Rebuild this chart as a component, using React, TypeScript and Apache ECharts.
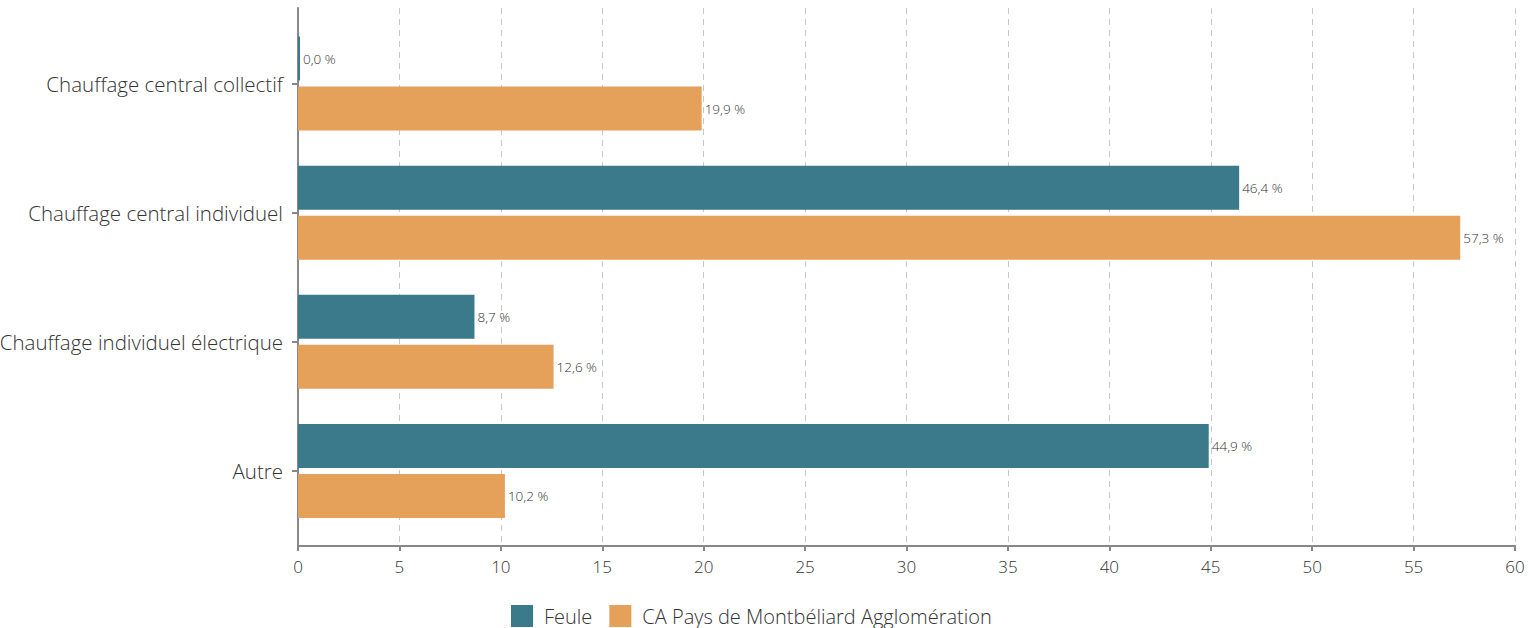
import React, { useEffect, useRef } from "react";
import * as echarts from "echarts";

const categories = [
  "Chauffage central collectif",
  "Chauffage central individuel",
  "Chauffage individuel électrique",
  "Autre",
];
const feule = [0.0, 46.4, 8.7, 44.9];
const capma = [19.9, 57.3, 12.6, 10.2];
const seriesNames = ["Feule", "CA Pays de Montbéliard Agglomération"];
const xTicks = { min: 0, max: 60, interval: 5 };

const FONT = "'Open Sans', 'Noto Sans', sans-serif";
const fmt = (v: number) => v.toFixed(1).replace(".", ",") + " %";

export default function App() {
  const ref = useRef<HTMLDivElement>(null);
  useEffect(() => {
    if (!ref.current) return;
    const chart = echarts.init(ref.current, null, { renderer: "svg" });
    const label = {
      show: true,
      position: "right",
      distance: 3,
      fontFamily: FONT,
      fontSize: 13.5,
      fontWeight: 300,
      color: "#333",
      formatter: (p: any) => fmt(p.value),
    };
    chart.setOption({
      animation: false,
      textStyle: { fontFamily: FONT },
      grid: [
        { left: 298, right: 14, top: 8, bottom: 82, containLabel: false, outerBoundsMode: "none" },
        { left: 298, right: 14, top: 19, bottom: 92.5, containLabel: false, outerBoundsMode: "none" },
      ],
      legend: {
        top: 600,
        left: 506,
        itemWidth: 22,
        itemHeight: 22,
        itemGap: 17,
        icon: "rect",
        textStyle: { fontFamily: FONT, fontSize: 20, fontWeight: 300, color: "#333", padding: [0, 0, 0, 6] },
        data: seriesNames,
      },
      xAxis: [
        {
          type: "value",
          gridIndex: 0,
          min: xTicks.min,
          max: xTicks.max,
          interval: xTicks.interval,
          axisLine: { show: true, lineStyle: { color: "#888", width: 2 } },
          axisTick: { show: true, length: 5, lineStyle: { color: "#888", width: 2 } },
          axisLabel: { fontFamily: FONT, fontSize: 17, fontWeight: 300, color: "#333", margin: 12 },
          splitLine: { show: true, lineStyle: { color: "#c8c8c8", type: [6, 5], width: 1 } },
        },
        {
          type: "value",
          gridIndex: 1,
          min: xTicks.min,
          max: xTicks.max,
          interval: xTicks.interval,
          show: false,
          splitLine: { show: false },
        },
      ],
      yAxis: [
        {
          type: "category",
          gridIndex: 0,
          data: categories,
          inverse: true,
          axisLine: { show: true, lineStyle: { color: "#888", width: 2 } },
          axisTick: { show: false },
          axisLabel: { show: false },
          splitLine: { show: false },
        },
        {
          type: "category",
          gridIndex: 1,
          data: categories,
          inverse: true,
          axisLine: { show: false },
          axisTick: { show: true, alignWithLabel: true, length: 6, lineStyle: { color: "#888", width: 2 } },
          axisLabel: { fontFamily: FONT, fontSize: 20.5, fontWeight: 300, color: "#333", margin: 15 },
          splitLine: { show: false },
        },
      ],
      series: [
        {
          name: seriesNames[0],
          type: "bar",
          xAxisIndex: 1,
          yAxisIndex: 1,
          data: feule,
          barWidth: 44,
          barGap: "13.6%",
          barMinHeight: 2,
          itemStyle: { color: "#3a7a8b" },
          label,
        },
        {
          name: seriesNames[1],
          type: "bar",
          xAxisIndex: 1,
          yAxisIndex: 1,
          data: capma,
          barWidth: 44,
          barGap: "13.6%",
          itemStyle: { color: "#e5a05a" },
          label,
        },
      ],
    });
    return () => chart.dispose();
  }, []);
  return (
    <div
      ref={ref}
      style={{ position: "absolute", left: 0, top: 0, width: 1529, height: 628 }}
    />
  );
}
